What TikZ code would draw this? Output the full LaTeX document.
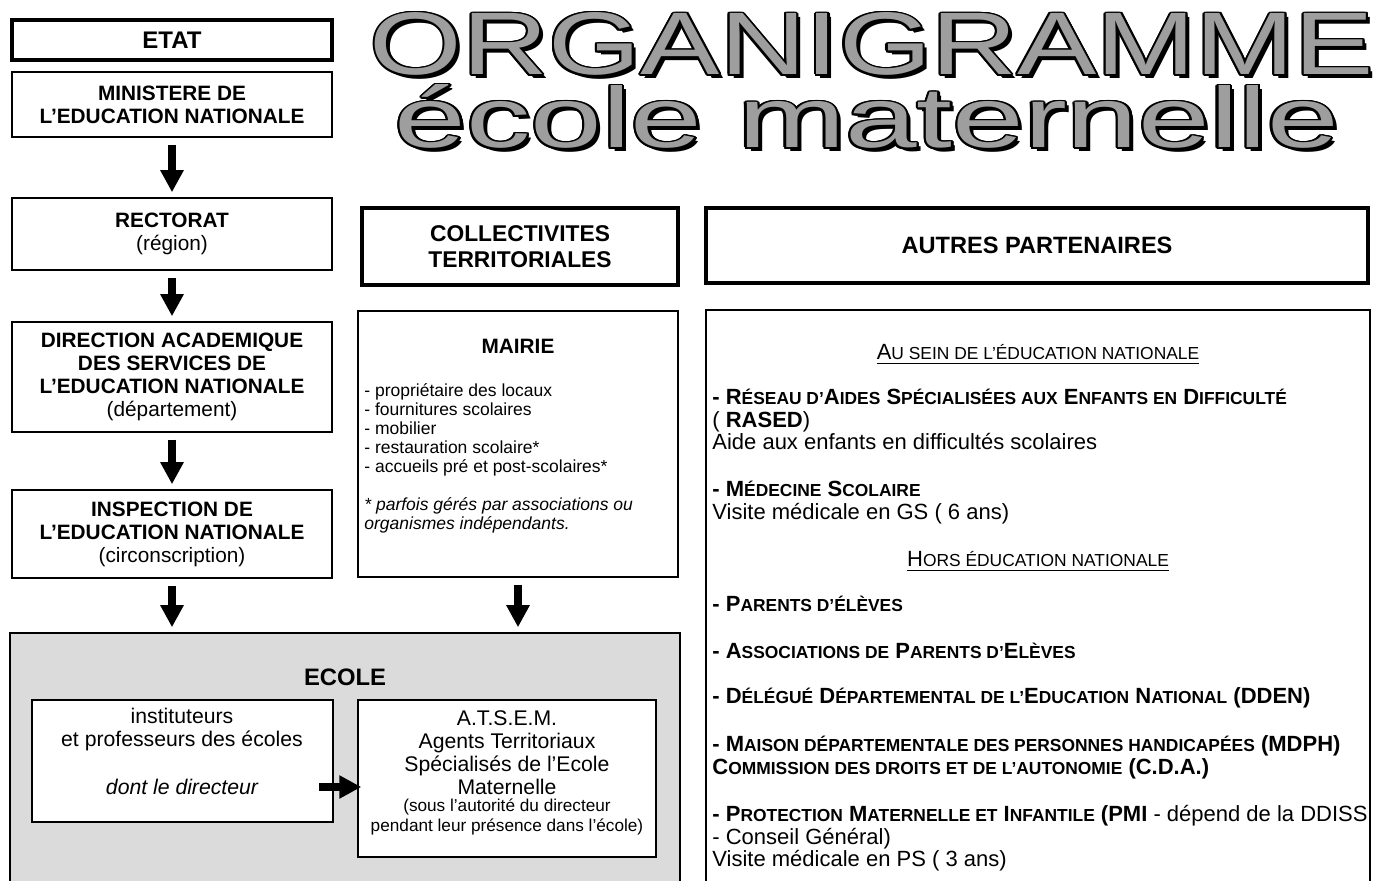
\documentclass[tikz,border=0pt]{standalone}
\usepackage{fontspec}
\setmainfont{Liberation Sans}
\usepackage{graphicx}
\usepackage{contour}
\usetikzlibrary{
    arrows.meta,
    positioning
}
\definecolor{titlegray}{gray}{0.62}
\definecolor{ecolegray}{gray}{0.86}
\contourlength{0.7pt}
\contournumber{16}

\newcommand{\boxfont}{\fontsize{10.4}{11.5}\selectfont}
\newcommand{\partfont}{\fontsize{11}{13}\selectfont}
\newcommand{\sca}[1]{{\fontsize{8.7}{10}\selectfont #1}}
\newcommand{\outlined}[1]{{\fontsize{40}{40}\selectfont\contour{black}{\textcolor{titlegray}{#1}}}}
\newcommand{\shadowed}[1]{{\fontsize{40}{40}\selectfont #1}}

\begin{document}
\begin{tikzpicture}[x=0.5pt, y=-0.5pt,
    box/.style={draw, line width=0.75pt, fill=white, inner sep=0pt, align=center},
    thickbox/.style={box, line width=2pt},
    txt/.style={inner sep=0pt, align=center},
    parttxt/.style={inner sep=0pt, anchor=base west, font=\partfont},
    bigarrow/.style={-{Triangle[width=11pt,length=11pt]}, line width=4pt,
        shorten <=3.5pt, shorten >=2.5pt}
]
\useasboundingbox (0,0) rectangle (1382,881);
\clip (0,0) rectangle (1382,881);

% titre
\node[anchor=base, inner sep=0pt] (titleshadow) at (876,79)
    {\resizebox{502pt}{31pt}{\shadowed{ORGANIGRAMME}}};
\node[anchor=base, inner sep=0pt] (title) at (872,75)
    {\resizebox{502pt}{31pt}{\outlined{ORGANIGRAMME}}};
\node[anchor=base, inner sep=0pt] (subshadow) at (871,152)
    {\resizebox{472pt}{31.5pt}{\shadowed{école maternelle}}};
\node[anchor=base, inner sep=0pt] (subtitle) at (867,148)
    {\resizebox{472pt}{31.5pt}{\outlined{école maternelle}}};

% etat
\node[thickbox, minimum width=160pt, minimum height=20pt, font=\fontsize{12}{13}\selectfont\bfseries] (etat) at (172,40) {ETAT};
\node[box, minimum width=160pt, minimum height=32.5pt, font=\boxfont\bfseries] (ministere) at (172,104.5)
    {MINISTERE DE\\L'EDUCATION NATIONALE};
\node[box, minimum width=160pt, minimum height=36pt, font=\boxfont\bfseries] (rectorat) at (172,234)
    {RECTORAT\\\textmd{(région)}};
\node[box, minimum width=160pt, minimum height=55pt, font=\boxfont\bfseries] (dasen) at (172,377)
    {DIRECTION ACADEMIQUE\\DES SERVICES DE\\L'EDUCATION NATIONALE\\\textmd{(département)}};
\node[box, minimum width=160pt, minimum height=44pt, font=\boxfont\bfseries] (ien) at (172,534)
    {INSPECTION DE\\L'EDUCATION NATIONALE\\\textmd{(circonscription)}};

% collectivites
\node[thickbox, minimum width=158pt, minimum height=38.5pt, font=\fontsize{11.4}{13}\selectfont\bfseries] (collect) at (520,246.5)
    {COLLECTIVITES\\TERRITORIALES};
\node[box, minimum width=160pt, minimum height=133pt] (mairie) at (518,444) {};
\node[txt, font=\boxfont\bfseries] (mairiehead) at (518,346) {MAIRIE};
\node[txt, anchor=north west, align=left, font=\fontsize{8.75}{9.5}\selectfont] (mairielist) at (364,383)
    {- propriétaire des locaux\\- fournitures scolaires\\- mobilier\\- restauration scolaire*\\- accueils pré et post-scolaires*\\[9.5pt]
     \textit{* parfois gérés par associations ou}\\\textit{organismes indépendants.}};

% ecole
\node[box, fill=ecolegray, minimum width=335pt, minimum height=128.5pt] (ecole) at (345,761.5) {};
\node[txt, font=\fontsize{11.9}{13}\selectfont\bfseries] (ecolehead) at (345,677) {ECOLE};
\node[box, minimum width=150.5pt, minimum height=61pt] (instit) at (182.5,761) {};
\node[txt, font=\fontsize{10.6}{11.5}\selectfont] (institxt) at (182,729.5)
    {instituteurs\\et professeurs des écoles};
\node[txt, font=\fontsize{10.6}{11.5}\selectfont\itshape] (directeur) at (182,787) {dont le directeur};
\node[box, minimum width=149pt, minimum height=78.5pt] (atsem) at (507,778.5) {};
\node[txt, font=\fontsize{10.6}{11.5}\selectfont] (atsemtxt) at (507,752.5)
    {A.T.S.E.M.\\Agents Territoriaux\\Spécialisés de l'Ecole\\Maternelle};
\node[txt, font=\fontsize{8.6}{10}\selectfont] (atsemnote) at (507,817)
    {(sous l'autorité du directeur\\pendant leur présence dans l'école)};

% autres partenaires
\node[thickbox, minimum width=331pt, minimum height=37.5pt, font=\fontsize{11.8}{13}\selectfont\bfseries] (autres) at (1037,245.5)
    {AUTRES PARTENAIRES};
\node[box, minimum width=332pt, minimum height=290pt] (partbox) at (1038,600) {};
\node[parttxt, anchor=base] (ausein) at (1038,360) {\underline{A\sca{U SEIN DE L'ÉDUCATION NATIONALE}}};
\node[parttxt] (rased) at (712,405)
    {\bfseries - R\sca{ÉSEAU D'}A\sca{IDES} S\sca{PÉCIALISÉES AUX} E\sca{NFANTS EN} D\sca{IFFICULTÉ}};
\node[parttxt] (rasedb) at (712,428) {( \textbf{RASED})};
\node[parttxt] (aide) at (712,450) {Aide aux enfants en difficultés scolaires};
\node[parttxt] (medecine) at (712,497) {\bfseries - M\sca{ÉDECINE} S\sca{COLAIRE}};
\node[parttxt] (visitegs) at (712,520) {Visite médicale en GS ( 6 ans)};
\node[parttxt, anchor=base] (hors) at (1038,567) {\underline{H\sca{ORS ÉDUCATION NATIONALE}}};
\node[parttxt] (parents) at (712,612) {\bfseries - P\sca{ARENTS D'ÉLÈVES}};
\node[parttxt] (assoc) at (712,659) {\bfseries - A\sca{SSOCIATIONS DE} P\sca{ARENTS D'}E\sca{LÈVES}};
\node[parttxt] (dden) at (712,704)
    {\bfseries - D\sca{ÉLÉGUÉ} D\sca{ÉPARTEMENTAL DE L'}E\sca{DUCATION} N\sca{ATIONAL} (DDEN)};
\node[parttxt] (mdph) at (712,751)
    {\bfseries - M\sca{AISON DÉPARTEMENTALE DES PERSONNES HANDICAPÉES} (MDPH)};
\node[parttxt] (cda) at (712,775)
    {\bfseries C\sca{OMMISSION DES DROITS ET DE L'AUTONOMIE} (C.D.A.)};
\node[parttxt] (pmi) at (712,821)
    {\bfseries - P\sca{ROTECTION} M\sca{ATERNELLE ET} I\sca{NFANTILE} (PMI \mdseries - dépend de la DDISS};
\node[parttxt] (conseil) at (712,844) {- Conseil Général)};
\node[parttxt] (visiteps) at (712,866) {Visite médicale en PS ( 3 ans)};

% fleches
\draw
    (ministere) edge[bigarrow] (rectorat)
    (rectorat) edge[bigarrow] (dasen)
    (dasen) edge[bigarrow] (ien)
    (ien) edge[bigarrow] (ien.south |- ecole.north)
    (mairie) edge[bigarrow] (mairie.south |- ecole.north)
    (instit.east |- directeur) edge[bigarrow, shorten <=-7.5pt, shorten >=-2pt] (atsem.west |- directeur);
\end{tikzpicture}
\end{document}
